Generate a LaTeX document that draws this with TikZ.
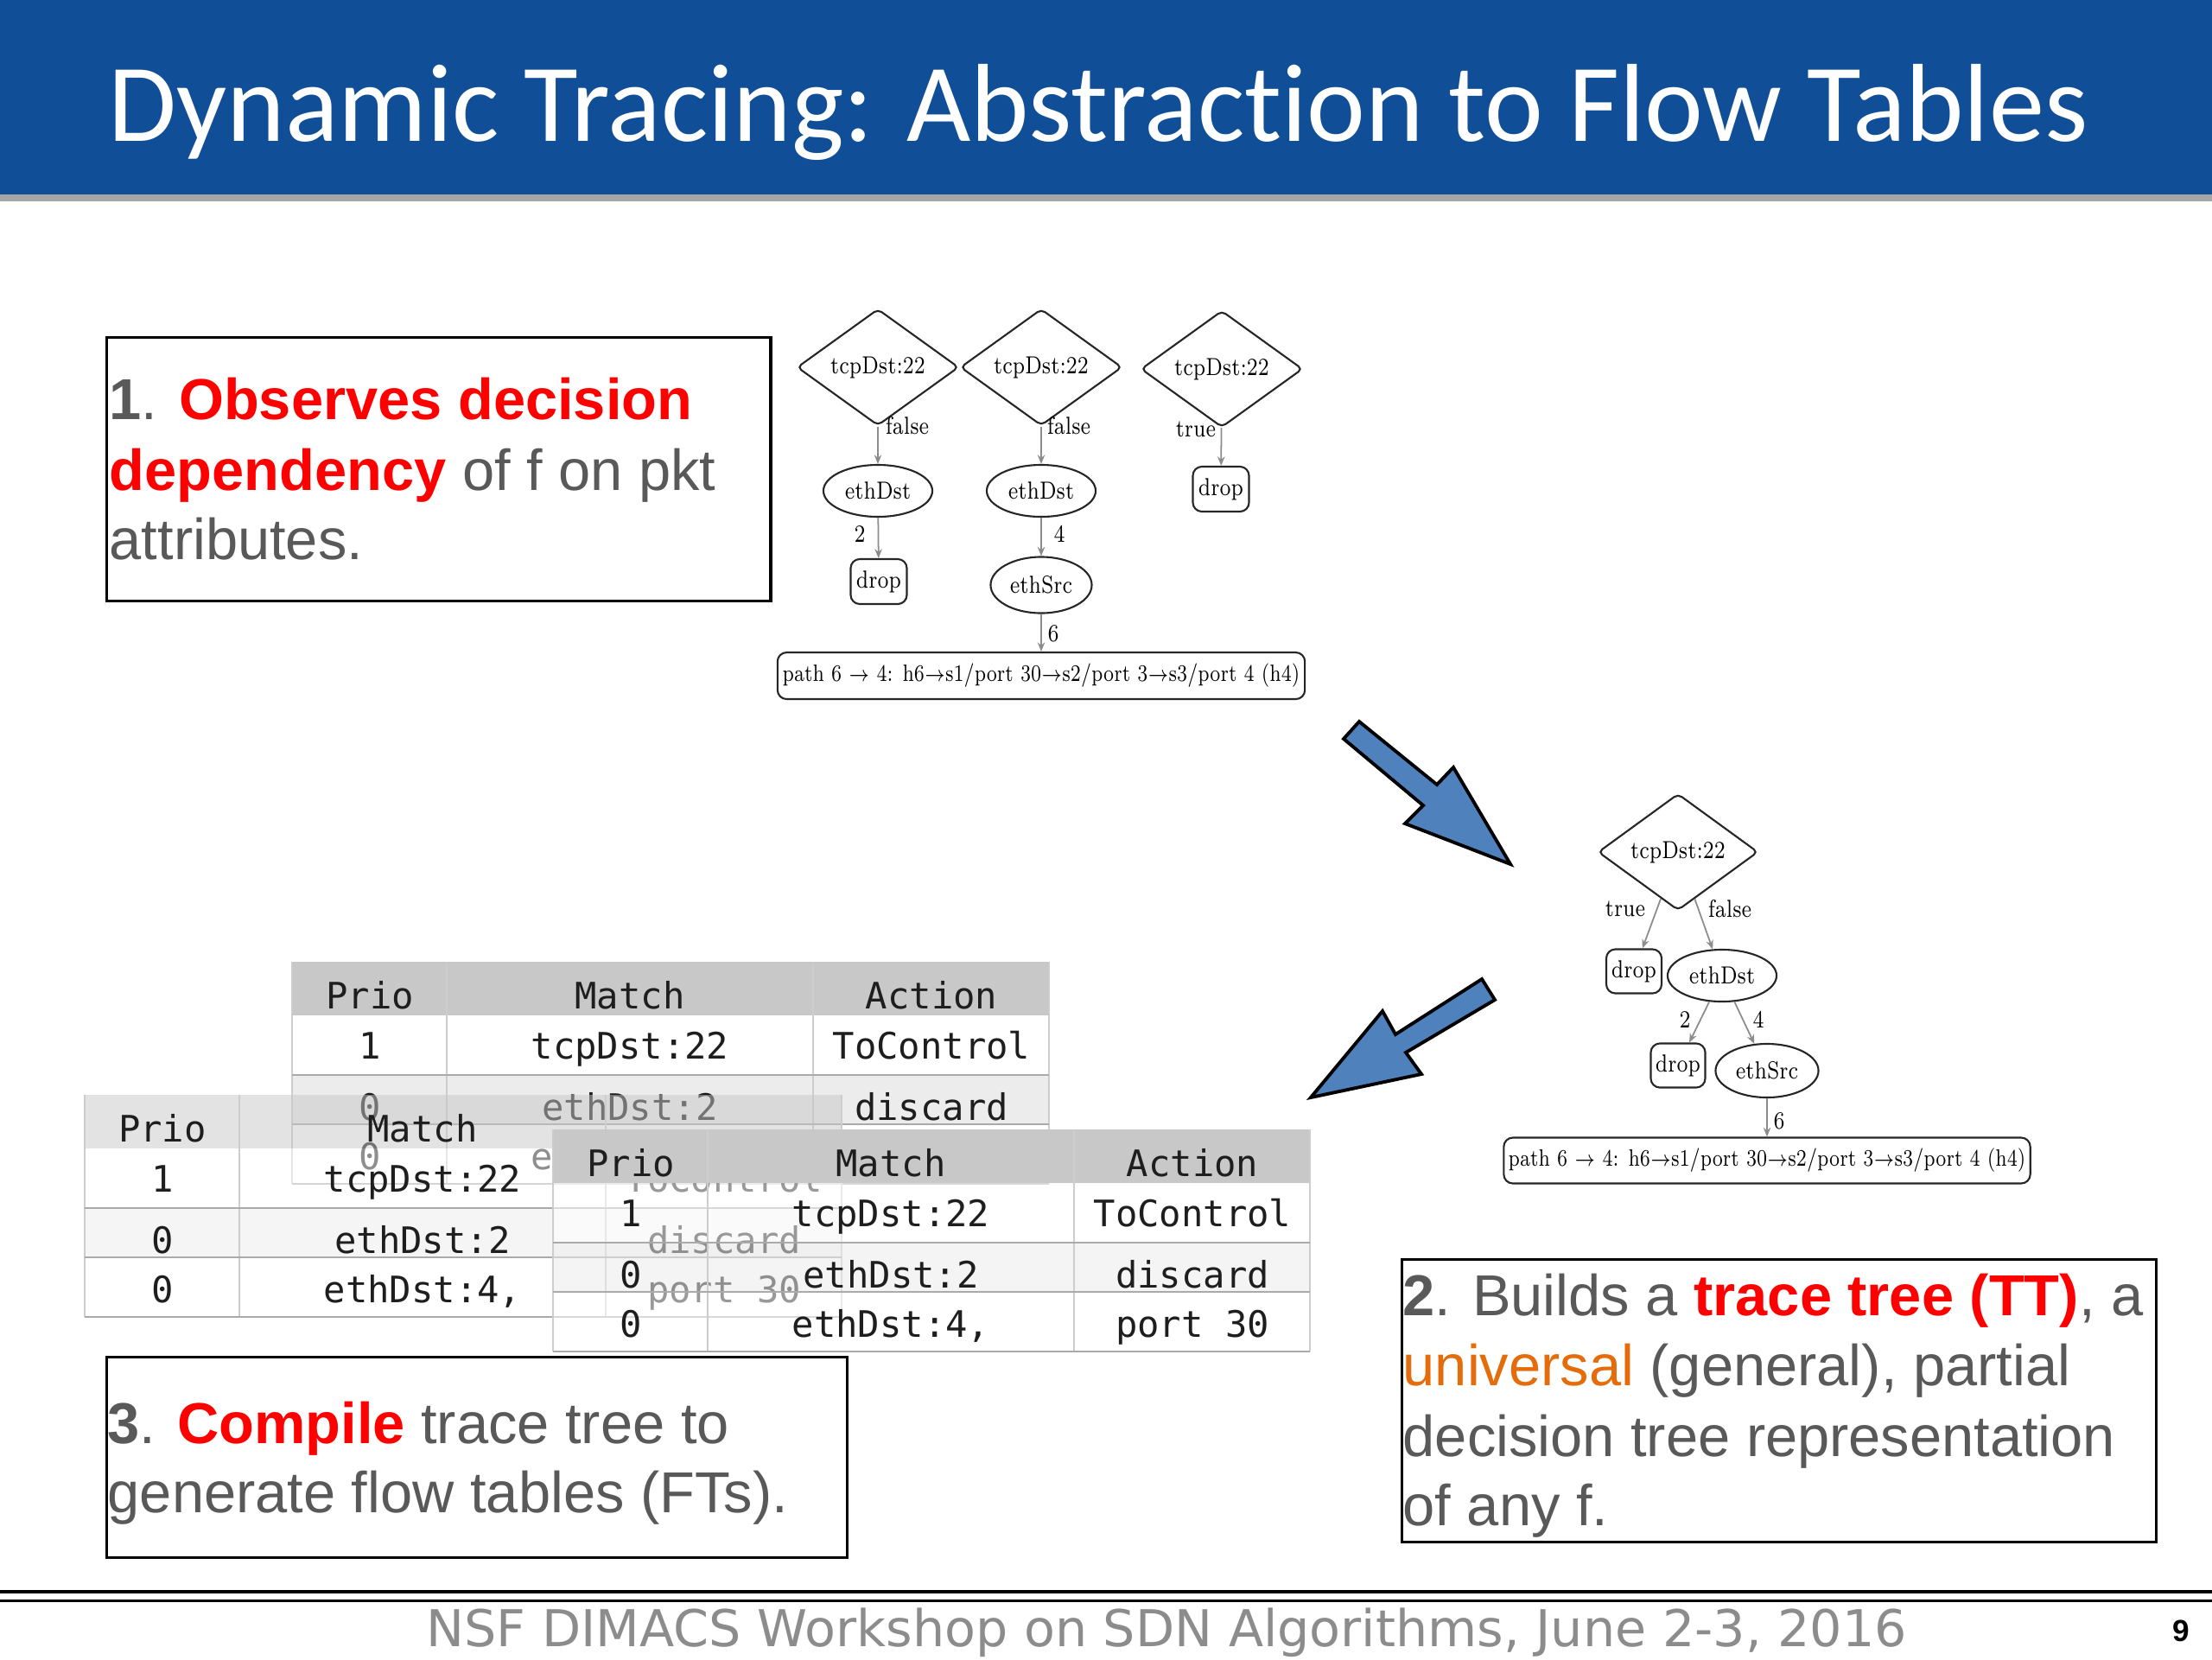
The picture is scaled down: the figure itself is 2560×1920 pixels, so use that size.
\documentclass[tikz,border=0pt]{standalone}
\usepackage{fontspec}
\usepackage{graphicx}
\newfontfamily\titlefont{Carlito}[Ligatures=CommonOff]
\newfontfamily\bodyfont{Liberation Sans}
\newfontfamily\footfont{DejaVu Sans}
\newfontfamily\tabfont{DejaVu Sans Mono}
\usetikzlibrary{shapes.geometric,arrows.meta}
\definecolor{titleblue}{RGB}{16,79,151}
\definecolor{bodygray}{RGB}{89,89,89}
\definecolor{hlred}{RGB}{255,0,0}
\definecolor{hlorange}{RGB}{228,108,10}
\definecolor{arrowblue}{RGB}{79,129,189}
\definecolor{hdrgray}{RGB}{200,200,200}
\definecolor{rowgray}{RGB}{236,236,236}
\definecolor{rowline}{RGB}{170,170,170}
\definecolor{colline}{RGB}{205,205,205}
\definecolor{tabtext}{RGB}{30,30,30}
\definecolor{footgray}{RGB}{140,140,140}
\newcommand\treefont{\fontsize{6.5}{8}\selectfont}
\newcommand\tz[1]{\scalebox{1}[1.25]{#1}}
\newcommand\flowtable[6]{%
\begin{scope}[shift={(#2,#3)}]
  \fill[hdrgray, fill opacity=#4] (0,0) rectangle (876,62);
  \fill[white, fill opacity=#5] (0,62) rectangle (876,131);
  \fill[rowgray, fill opacity=#5] (0,131) rectangle (876,188);
  \fill[white, fill opacity=#5] (0,188) rectangle (876,257);
  \foreach \cx in {0,179,603,876} {\draw[colline, line width=0.4pt] (\cx,0) -- (\cx,257);}
  \foreach \ry in {131,188,257} {\draw[rowline, line width=0.8pt] (0,\ry) -- (876,\ry);}
  \node[cell] (#1h1) at (90,54) {Prio};
  \node[cell] (#1h2) at (391,54) {Match};
  \node[cell] (#1h3) at (740,54) {#6};
  \node[cell] (#1a1) at (90,112) {1};
  \node[cell] (#1a2) at (391,112) {tcpDst:22};
  \node[cell] (#1a3) at (740,112) {ToControl};
  \node[cell] (#1b1) at (90,183) {0};
  \node[cell] (#1b2) at (391,183) {ethDst:2};
  \node[cell] (#1b3) at (740,183) {discard};
  \node[cell] (#1c1) at (90,240) {0};
  \node[cell] (#1c2) at (391,240) {ethDst:4,};
  \node[cell] (#1c3) at (740,240) {port 30};
\end{scope}}
\newcommand\pathtext{\scalebox{0.93}[1.2]{path 6 $\rightarrow$ 4: h6$\mathord{\rightarrow}$s1/port 30$\mathord{\rightarrow}$s2/port 3$\mathord{\rightarrow}$s3/port 4 (h4)}}
\begin{document}
\begin{tikzpicture}[x=0.01cm, y=-0.01cm,
  dia/.style={diamond, draw=black!85, line width=0.6pt, rounded corners=1.5pt, minimum width=1.87cm, minimum height=1.24cm, inner sep=0pt, font=\treefont},
  ell/.style={ellipse, draw=black!85, line width=0.6pt, inner sep=0pt, minimum width=1.26cm, minimum height=0.6cm, font=\treefont},
  dropbox/.style={rectangle, rounded corners=3pt, draw=black!85, line width=0.6pt, minimum width=0.65cm, minimum height=0.52cm, inner sep=0pt, font=\treefont},
  pathbox/.style={rectangle, rounded corners=3pt, draw=black!85, line width=0.6pt, minimum width=6.1cm, minimum height=0.54cm, inner sep=0pt, font=\treefont},
  tedge/.style={draw=black!45, line width=0.5pt, -{Stealth[length=3pt,width=2.4pt]}},
  lbl/.style={font=\treefont, inner sep=0pt},
  barrow/.style={fill=arrowblue, draw=black, line width=1.1pt, line join=miter},
  txtbox/.style={draw=black, line width=0.9pt, anchor=north west, inner sep=0pt},
  body/.style={anchor=base west, inner sep=0pt, font=\bodyfont\fontsize{19}{23}\selectfont, text=bodygray},
  cell/.style={anchor=base, inner sep=0pt, font=\tabfont\fontsize{12}{14}\selectfont, text=tabtext}
]
\useasboundingbox (0,0) rectangle (2560,1920);
\fill[white] (0,0) rectangle (2560,1920);
% title bar
\fill[black!35] (0,225) rectangle (2560,233);
\fill[titleblue] (0,0) rectangle (2560,225);
\node[anchor=base west, inner sep=0pt, text=white, font=\titlefont\fontsize{36.5}{40}\selectfont] (title) at (125,163) {Dynamic Tracing: Abstraction to Flow Tables};

% text boxes
\node[txtbox, minimum width=7.68cm, minimum height=3.05cm] (box1) at (122,389) {};
\node[body] (b1l1) at (126,485) {\textbf{1}. \textcolor{hlred}{\bfseries Observes decision}};
\node[body] (b1l2) at (126,567) {\textcolor{hlred}{\bfseries dependency} of f on pkt};
\node[body] (b1l3) at (126,647) {attributes.};

\node[txtbox, minimum width=8.72cm, minimum height=3.27cm] (box2) at (1621,1456) {};
\node[body] (b2l1) at (1623,1522) {\textbf{2}. Builds a \textcolor{hlred}{\bfseries trace tree (TT)}, a};
\node[body] (b2l2) at (1623,1603) {\textcolor{hlorange}{universal} (general), partial};
\node[body] (b2l3) at (1623,1685) {decision tree representation};
\node[body] (b2l4) at (1623,1765) {of any f.};

\node[txtbox, minimum width=8.56cm, minimum height=2.32cm] (box3) at (122,1569) {};
\node[body] (b3l1) at (124,1670) {\textbf{3}. \textcolor{hlred}{\bfseries Compile} trace tree to};
\node[body] (b3l2) at (124,1750) {generate flow tables (FTs).};

% tree 1 (three traces)
\node[dia] (d1) at (1016,425) {\tz{tcpDst:22}};
\node[dia] (d2) at (1205,425) {\tz{tcpDst:22}};
\node[dia] (d3) at (1414,427) {\tz{tcpDst:22}};
\node[ell] (e1) at (1016,568) {\tz{ethDst}};
\node[ell] (e2) at (1205,568) {\tz{ethDst}};
\node[dropbox] (r3) at (1413,566) {\tz{drop}};
\node[dropbox] (r1) at (1017,673) {\tz{drop}};
\node[ell, minimum width=1.17cm, minimum height=0.65cm] (s2) at (1205,677) {\tz{ethSrc}};
\node[pathbox] (p1) at (1205,782) {\pathtext};
\draw[tedge] (d1) -- (e1);
\draw[tedge] (e1) -- (r1);
\draw[tedge] (d2) -- (e2);
\draw[tedge] (e2) -- (s2);
\draw[tedge] (s2) -- (p1);
\draw[tedge] (d3) -- (r3);
\node[lbl] (lf1) at (1050,493) {\tz{false}};
\node[lbl] (lf2) at (1237,493) {\tz{false}};
\node[lbl] (lt3) at (1384,497) {\tz{true}};
\node[lbl] (l2a) at (995,618) {\tz{2}};
\node[lbl] (l4a) at (1226,618) {\tz{4}};
\node[lbl] (l6a) at (1219,733) {\tz{6}};

% tree 2 (trace tree)
\node[dia, minimum width=1.85cm, minimum height=1.22cm] (D) at (1942,986) {\tz{tcpDst:22}};
\node[dropbox, minimum width=0.64cm, minimum height=0.51cm] (DL) at (1891,1124) {\tz{drop}};
\node[ell] (E) at (1993,1129) {\tz{ethDst}};
\node[dropbox, minimum width=0.63cm, minimum height=0.51cm] (DR) at (1942,1233) {\tz{drop}};
\node[ell, minimum width=1.19cm, minimum height=0.62cm] (S) at (2045,1239) {\tz{ethSrc}};
\node[pathbox, minimum width=6.09cm, minimum height=0.53cm] (P) at (2045,1343) {\pathtext};
\draw[tedge] (D) -- (DL);
\draw[tedge] (D) -- (E);
\draw[tedge] (E) -- (DR);
\draw[tedge] (E) -- (S);
\draw[tedge] (S) -- (S |- P.north);
\node[lbl] (lt) at (1881,1052) {\tz{true}};
\node[lbl] (lf) at (2002,1052) {\tz{false}};
\node[lbl] (l2b) at (1950,1180) {\tz{2}};
\node[lbl] (l4b) at (2035,1180) {\tz{4}};
\node[lbl] (l6b) at (2059,1297) {\tz{6}};

% block arrows
\draw[barrow] (1573,835) -- (1663,908) -- (1682,888) -- (1748,1000) -- (1626,953) -- (1647,932) -- (1555,855) -- cycle;
\draw[barrow] (1715,1133) -- (1615,1197) -- (1600,1170) -- (1517,1270) -- (1645,1243) -- (1627,1218) -- (1730,1157) -- cycle;

% flow tables
\flowtable{ta}{338}{1113}{1}{1}{Action}
\flowtable{tb}{98}{1267}{0.5}{0.5}{}
\flowtable{tc}{640}{1307}{1}{0.55}{Action}

% footer
\fill[black] (0,1840) rectangle (2560,1844);
\fill[black] (0,1851) rectangle (2560,1854);
\node[anchor=base west, inner sep=0pt, text=footgray, font=\footfont\fontsize{16.7}{18}\selectfont] (foot) at (493,1905) {NSF DIMACS Workshop on SDN Algorithms, June 2-3, 2016};
\node[anchor=base east, inner sep=0pt, text=black, font=\bodyfont\bfseries\fontsize{10}{12}\selectfont] (pnum) at (2535,1899) {9};
\end{tikzpicture}
\end{document}
